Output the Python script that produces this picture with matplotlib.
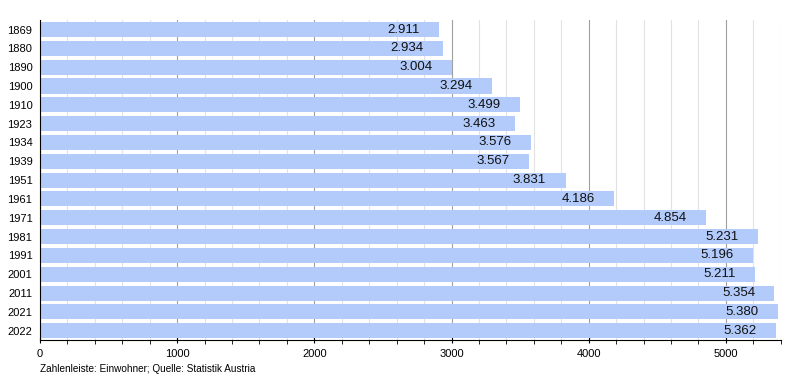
import matplotlib
matplotlib.use("Agg")
import matplotlib.pyplot as plt
from matplotlib.ticker import MultipleLocator

years = ["1869", "1880", "1890", "1900", "1910", "1923", "1934", "1939", "1951",
         "1961", "1971", "1981", "1991", "2001", "2011", "2021", "2022"]
population = [2911, 2934, 3004, 3294, 3499, 3463, 3576, 3567, 3831,
              4186, 4854, 5231, 5196, 5211, 5354, 5380, 5362]

plt.rcParams["font.family"] = ["Liberation Sans", "DejaVu Sans"]

fig = plt.figure(figsize=(8, 3.8), dpi=100)
ax = fig.add_axes([0.05, 0.105, 0.926, 0.842])

pos = list(range(len(years)))
ax.barh(pos, population, height=0.8, color="#b3cbfb", zorder=2)

for p, v in zip(pos, population):
    label = f"{v / 1000:.3f}"
    ax.annotate(label, (v, p), xytext=(-14, 0), textcoords="offset points",
                ha="right", va="center", fontsize=9.5, color="#111111", zorder=3)

ax.set_xlim(0, 5400)
ax.set_ylim(len(years) - 0.5, -0.5)
ax.set_yticks(pos)
ax.set_yticklabels(years, fontsize=8)

ax.xaxis.set_major_locator(MultipleLocator(1000))
ax.xaxis.set_minor_locator(MultipleLocator(200))
ax.tick_params(axis="x", which="major", labelsize=8, length=5, direction="inout", pad=4)
ax.tick_params(axis="x", which="minor", length=3, direction="out")
ax.tick_params(axis="y", length=0, pad=5.5)

ax.grid(axis="x", which="major", color="#a0a0a0", linewidth=0.8, zorder=0)
ax.grid(axis="x", which="minor", color="#e2e2e2", linewidth=0.8, zorder=0)
ax.set_axisbelow(True)

for s in ("top", "right"):
    ax.spines[s].set_visible(False)
ax.spines["left"].set_color("black")
ax.spines["bottom"].set_color("black")

fig.text(0.05, 0.02, "Zahlenleiste: Einwohner; Quelle: Statistik Austria", fontsize=7.2)

fig.savefig("out.png", dpi=100)
